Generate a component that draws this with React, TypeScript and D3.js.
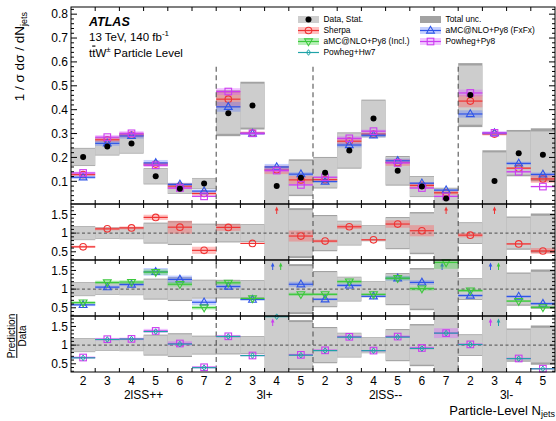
import React from 'react';
import * as d3 from 'd3';

// Bin labels (jet multiplicity) and analysis regions
const binLabels = ['2', '3', '4', '5', '6', '7', '2', '3', '4', '5', '2', '3', '4', '5', '6', '7', '2', '3', '4', '5'];
const regionNames = ['2lSS++', '3l+', '2lSS--', '3l-'];
const regionSizes = [6, 4, 6, 4];

// Unfolded data: normalised cross-section, statistical and total uncertainty
const dataVals = [0.202, 0.246, 0.258, 0.121, 0.069, 0.091, 0.385, 0.417, 0.080, 0.115, 0.136, 0.229, 0.363, 0.144, 0.078, 0.028, 0.461, 0.101, 0.218, 0.211];
const dataStat = [0.035, 0.035, 0.039, 0.031, 0.020, 0.021, 0.086, 0.092, 0.077, 0.071, 0.062, 0.072, 0.075, 0.058, 0.041, 0.042, 0.124, 0.120, 0.090, 0.098];
const dataTotal = [0.038, 0.038, 0.042, 0.034, 0.022, 0.023, 0.096, 0.100, 0.084, 0.077, 0.066, 0.076, 0.079, 0.062, 0.044, 0.045, 0.134, 0.129, 0.097, 0.111];

// MC predictions and their relative uncertainties
const sherpaVals = [0.128, 0.274, 0.294, 0.172, 0.080, 0.049, 0.444, 0.302, 0.148, 0.106, 0.107, 0.268, 0.298, 0.179, 0.083, 0.052, 0.436, 0.298, 0.155, 0.110];
const sherpaUnc = [0.05, 0.035, 0.035, 0.05, 0.15, 0.18, 0.08, 0.02, 0.12, 0.16, 0.05, 0.05, 0.02, 0.08, 0.14, 0.15, 0.06, 0.02, 0.03, 0.15];
const fxfxVals = [0.117, 0.259, 0.290, 0.177, 0.087, 0.059, 0.412, 0.300, 0.160, 0.130, 0.099, 0.252, 0.293, 0.186, 0.092, 0.063, 0.382, 0.302, 0.175, 0.129];
const fxfxUnc = [0.06, 0.04, 0.04, 0.07, 0.08, 0.12, 0.05, 0.02, 0.08, 0.06, 0.04, 0.04, 0.03, 0.05, 0.05, 0.08, 0.04, 0.02, 0.04, 0.06];
const inclVals = [0.129, 0.290, 0.307, 0.176, 0.078, 0.046, 0.450, 0.313, 0.160, 0.099, 0.117, 0.275, 0.312, 0.186, 0.079, 0.048, 0.443, 0.290, 0.148, 0.108];
const inclUnc = [0.06, 0.04, 0.04, 0.05, 0.05, 0.1, 0.04, 0.03, 0.06, 0.05, 0.04, 0.04, 0.03, 0.04, 0.05, 0.1, 0.04, 0.03, 0.04, 0.06];
const powhegPy8Vals = [0.135, 0.285, 0.301, 0.167, 0.072, 0.037, 0.476, 0.301, 0.145, 0.085, 0.117, 0.280, 0.310, 0.177, 0.072, 0.037, 0.470, 0.303, 0.140, 0.078];
const powhegPy8Unc = [0.04, 0.03, 0.03, 0.04, 0.06, 0.08, 0.03, 0.02, 0.05, 0.04, 0.03, 0.03, 0.02, 0.03, 0.04, 0.1, 0.03, 0.02, 0.03, 0.04];
const powhegHw7Vals = [0.133, 0.283, 0.300, 0.165, 0.071, 0.036, 0.474, 0.300, 0.141, 0.084, 0.116, 0.278, 0.309, 0.175, 0.071, 0.037, 0.468, 0.301, 0.139, 0.077];

// Axis ticks
const mainTicks = [0.1, 0.2, 0.3, 0.4, 0.5, 0.6, 0.7, 0.8];
const ratioTicks = [0.5, 1, 1.5];

const FONT = "'Liberation Sans', Arial, Helvetica, sans-serif";
const W = 556;
const H = 421;
const X0 = 71;
const X1 = 555;
const MAIN_TOP = 7;
const MAIN_BOT = 204;
const RATIO_TOPS = [204, 260, 316];
const RH = 56;
const RATIO_DOMAIN: [number, number] = [0.28, 1.78];

const STAT_GREY = '#cdcdcd';
const TOTAL_GREY = '#a2a2a2';

type MarkerType = 'circle' | 'up' | 'down' | 'square' | 'diamond' | 'dot';

interface Series {
  key: string;
  label: string;
  color: string;
  band: string | null;
  marker: MarkerType;
  vals: number[];
  unc: number[] | null;
  arrowDx: number;
}

const sherpa: Series = { key: 'sherpa', label: 'Sherpa', color: '#f03434', band: 'rgba(255,90,90,0.38)', marker: 'circle', vals: sherpaVals, unc: sherpaUnc, arrowDx: 0 };
const fxfx: Series = { key: 'fxfx', label: 'aMC@NLO+Py8 (FxFx)', color: '#2f55e8', band: 'rgba(90,120,255,0.35)', marker: 'up', vals: fxfxVals, unc: fxfxUnc, arrowDx: -4 };
const incl: Series = { key: 'incl', label: 'aMC@NLO+Py8 (Incl.)', color: '#3cc83c', band: 'rgba(80,215,80,0.4)', marker: 'down', vals: inclVals, unc: inclUnc, arrowDx: 4 };
const py8: Series = { key: 'py8', label: 'Powheg+Py8', color: '#cc3cf0', band: 'rgba(215,90,255,0.35)', marker: 'square', vals: powhegPy8Vals, unc: powhegPy8Unc, arrowDx: -4 };
const hw7: Series = { key: 'hw7', label: 'Powheg+Hw7', color: '#1fa3a8', band: null, marker: 'diamond', vals: powhegHw7Vals, unc: null, arrowDx: 4 };

const x = d3.scaleLinear().domain([0, 20]).range([X0, X1]);
const yMain = d3.scaleLinear().domain([0.005, 0.83]).range([MAIN_BOT, MAIN_TOP]);
const yRatio = RATIO_TOPS.map((t) => d3.scaleLinear().domain(RATIO_DOMAIN).range([t + RH, t]));

function Marker({ type, cx, cy, color }: { type: MarkerType; cx: number; cy: number; color: string }) {
  const sw = 1.1;
  switch (type) {
    case 'circle':
      return <circle cx={cx} cy={cy} r={3.3} fill="none" stroke={color} strokeWidth={sw} />;
    case 'up':
      return <path d={`M${cx},${cy - 4.2}L${cx - 3.9},${cy + 2.6}L${cx + 3.9},${cy + 2.6}Z`} fill="none" stroke={color} strokeWidth={sw} />;
    case 'down':
      return <path d={`M${cx},${cy + 4.2}L${cx - 3.9},${cy - 2.6}L${cx + 3.9},${cy - 2.6}Z`} fill="none" stroke={color} strokeWidth={sw} />;
    case 'square':
      return <rect x={cx - 3.3} y={cy - 3.3} width={6.6} height={6.6} fill="none" stroke={color} strokeWidth={sw} />;
    case 'diamond':
      return <path d={`M${cx},${cy - 2.8}L${cx + 2},${cy}L${cx},${cy + 2.8}L${cx - 2},${cy}Z`} fill="none" stroke={color} strokeWidth={1} />;
    case 'dot':
      return <circle cx={cx} cy={cy} r={3} fill="#000" />;
  }
  return null;
}

function SeriesMain({ s }: { s: Series }) {
  return (
    <g>
      {s.vals.map((v, i) => {
        const xa = x(i);
        const xb = x(i + 1);
        const u = s.unc ? s.unc[i] : 0;
        return (
          <g key={i}>
            {s.band && (
              <rect x={xa} width={xb - xa} y={yMain(v * (1 + u))} height={Math.max(0.8, yMain(v * (1 - u)) - yMain(v * (1 + u)))} fill={s.band} />
            )}
            <line x1={xa} x2={xb} y1={yMain(v)} y2={yMain(v)} stroke={s.color} strokeWidth={1.2} />
            <Marker type={s.marker} cx={(xa + xb) / 2} cy={yMain(v)} color={s.color} />
          </g>
        );
      })}
    </g>
  );
}

function SeriesRatio({ s, panel }: { s: Series; panel: number }) {
  const y = yRatio[panel];
  const top = RATIO_TOPS[panel];
  return (
    <g>
      {s.vals.map((v, i) => {
        const r = v / dataVals[i];
        const xa = x(i);
        const xb = x(i + 1);
        const xc = (xa + xb) / 2;
        if (r > RATIO_DOMAIN[1]) {
          const ax = xc + s.arrowDx;
          return (
            <g key={i}>
              <line x1={ax} x2={ax} y1={top + 10} y2={top + 5} stroke={s.color} strokeWidth={1} />
              <path d={`M${ax},${top + 2.5}L${ax - 1.8},${top + 6.5}L${ax + 1.8},${top + 6.5}Z`} fill={s.color} />
            </g>
          );
        }
        const u = s.unc ? s.unc[i] : 0;
        return (
          <g key={i}>
            {s.band && (
              <g clipPath={`url(#clip-r${panel})`}>
                <rect x={xa} width={xb - xa} y={y(r * (1 + u))} height={Math.max(0.8, y(r * (1 - u)) - y(r * (1 + u)))} fill={s.band} />
              </g>
            )}
            <line x1={xa} x2={xb} y1={y(r)} y2={y(r)} stroke={s.color} strokeWidth={1.2} />
            <Marker type={s.marker} cx={xc} cy={y(r)} color={s.color} />
          </g>
        );
      })}
    </g>
  );
}

function DataBandsRatio({ panel }: { panel: number }) {
  const y = yRatio[panel];
  return (
    <g clipPath={`url(#clip-r${panel})`}>
      {dataVals.map((d, i) => {
        const rt = dataTotal[i] / d;
        const rs = dataStat[i] / d;
        return (
          <g key={i}>
            <rect x={x(i)} width={x(i + 1) - x(i)} y={y(1 + rt)} height={y(1 - rt) - y(1 + rt)} fill={TOTAL_GREY} />
            <rect x={x(i)} width={x(i + 1) - x(i)} y={y(1 + rs)} height={y(1 - rs) - y(1 + rs)} fill={STAT_GREY} />
          </g>
        );
      })}
    </g>
  );
}

function PanelFrame({ top, bottom, yTicks, yScale, minor, majorLen }: { top: number; bottom: number; yTicks: number[]; yScale: d3.ScaleLinear<number, number>; minor: number[]; majorLen: number }) {
  const edges = d3.range(1, 20);
  return (
    <g>
      <rect x={X0} y={top} width={X1 - X0} height={bottom - top} fill="none" stroke="#000" strokeWidth={1} />
      {edges.map((e) => (
        <g key={e}>
          <line x1={x(e)} x2={x(e)} y1={top} y2={top + 4} stroke="#000" strokeWidth={1} />
          <line x1={x(e)} x2={x(e)} y1={bottom} y2={bottom - 4} stroke="#000" strokeWidth={1} />
        </g>
      ))}
      {yTicks.map((t) => (
        <g key={'M' + t}>
          <line x1={X0} x2={X0 + majorLen} y1={yScale(t)} y2={yScale(t)} stroke="#000" strokeWidth={1} />
          <line x1={X1} x2={X1 - majorLen} y1={yScale(t)} y2={yScale(t)} stroke="#000" strokeWidth={1} />
          <text x={68} y={yScale(t)} dy="0.35em" textAnchor="end" fontSize={12}>{t}</text>
        </g>
      ))}
      {minor.map((t) => (
        <g key={'m' + t}>
          <line x1={X0} x2={X0 + 3} y1={yScale(t)} y2={yScale(t)} stroke="#000" strokeWidth={1} />
          <line x1={X1} x2={X1 - 3} y1={yScale(t)} y2={yScale(t)} stroke="#000" strokeWidth={1} />
        </g>
      ))}
    </g>
  );
}

function LegendEntry({ s, lx, ly }: { s: Series; lx: number; ly: number }) {
  return (
    <g>
      {s.band && <rect x={lx} y={ly - 3.5} width={21} height={7} fill={s.band} />}
      <line x1={lx} x2={lx + 21} y1={ly} y2={ly} stroke={s.color} strokeWidth={1.2} />
      <Marker type={s.marker} cx={lx + 10.5} cy={ly} color={s.color} />
      <text x={lx + 25.5} y={ly} dy="0.35em" fontSize={8.4}>{s.label}</text>
    </g>
  );
}

export default function App() {
  const mainMinor = d3.range(0.02, 0.83, 0.02).filter((t) => Math.abs(t * 10 - Math.round(t * 10)) > 1e-6);
  const ratioMinor = d3.range(0.3, 1.78, 0.1).filter((t) => Math.abs(t * 2 - Math.round(t * 2)) > 1e-6);
  const boundaries: number[] = [];
  let acc = 0;
  regionSizes.forEach((n) => {
    boundaries.push(acc);
    acc += n;
  });
  const separators = boundaries.slice(1);

  return (
    <svg width={W} height={H} style={{ position: 'absolute', left: 0, top: 0, background: '#fff' }} fontFamily={FONT}>
      <defs>
        <clipPath id="clip-main">
          <rect x={X0} y={MAIN_TOP} width={X1 - X0} height={MAIN_BOT - MAIN_TOP} />
        </clipPath>
        {RATIO_TOPS.map((t, i) => (
          <clipPath id={`clip-r${i}`} key={i}>
            <rect x={X0} y={t} width={X1 - X0} height={RH} />
          </clipPath>
        ))}
      </defs>
      <rect x={0} y={0} width={W} height={H} fill="#fff" />

      {/* Main panel: data uncertainty boxes */}
      <g clipPath="url(#clip-main)">
        {dataVals.map((d, i) => (
          <g key={i}>
            <rect x={x(i)} width={x(i + 1) - x(i)} y={yMain(d + dataTotal[i])} height={yMain(d - dataTotal[i]) - yMain(d + dataTotal[i])} fill={TOTAL_GREY} />
            <rect x={x(i)} width={x(i + 1) - x(i)} y={yMain(d + dataStat[i])} height={yMain(d - dataStat[i]) - yMain(d + dataStat[i])} fill={STAT_GREY} />
          </g>
        ))}
        <SeriesMain s={sherpa} />
        <SeriesMain s={fxfx} />
        <SeriesMain s={py8} />
        {dataVals.map((d, i) => (
          <Marker key={i} type="dot" cx={(x(i) + x(i + 1)) / 2} cy={yMain(d)} color="#000" />
        ))}
      </g>

      {/* Region separators in the main panel */}
      {separators.map((b) => (
        <line key={b} x1={x(b)} x2={x(b)} y1={yMain(0.58)} y2={MAIN_BOT} stroke="#555" strokeWidth={1.1} strokeDasharray="5,3.5" />
      ))}

      {/* Ratio panels */}
      {[0, 1, 2].map((p) => (
        <g key={p}>
          <DataBandsRatio panel={p} />
          <line x1={X0} x2={X1} y1={yRatio[p](1)} y2={yRatio[p](1)} stroke="#666" strokeWidth={1.1} strokeDasharray="3,2.5" />
        </g>
      ))}
      {separators.map((b) => (
        <line key={'s' + b} x1={x(b)} x2={x(b)} y1={RATIO_TOPS[0]} y2={RATIO_TOPS[2] + RH} stroke="#555" strokeWidth={1.1} strokeDasharray="5,3.5" />
      ))}
      <SeriesRatio s={sherpa} panel={0} />
      <SeriesRatio s={fxfx} panel={1} />
      <SeriesRatio s={incl} panel={1} />
      <SeriesRatio s={py8} panel={2} />
      <SeriesRatio s={hw7} panel={2} />

      {/* Frames and axes */}
      <PanelFrame top={MAIN_TOP} bottom={MAIN_BOT} yTicks={mainTicks} yScale={yMain} minor={mainMinor} majorLen={6} />
      {RATIO_TOPS.map((t, i) => (
        <PanelFrame key={i} top={t} bottom={t + RH} yTicks={ratioTicks} yScale={yRatio[i]} minor={ratioMinor} majorLen={5} />
      ))}

      {/* Bin labels */}
      {binLabels.map((l, i) => (
        <text key={i} x={(x(i) + x(i + 1)) / 2} y={384.5} textAnchor="middle" fontSize={12}>{l}</text>
      ))}
      {regionNames.map((n, k) => (
        <text key={n} x={(x(boundaries[k]) + x(boundaries[k] + regionSizes[k])) / 2} y={398.5} textAnchor="middle" fontSize={12}>{n}</text>
      ))}
      <text x={555} y={414.5} textAnchor="end" fontSize={13}>
        Particle-Level N<tspan dy={2.5} fontSize={9}>jets</tspan>
      </text>

      {/* Axis titles */}
      <text transform="translate(24,12) rotate(-90)" textAnchor="end" fontSize={13.5}>
        1 / σ dσ / dN<tspan dy={3} fontSize={9}>jets</tspan>
      </text>
      <text transform="translate(15,336) rotate(-90)" textAnchor="middle" fontSize={10}>Prediction</text>
      <line x1={16.8} x2={16.8} y1={314} y2={358} stroke="#000" strokeWidth={1} />
      <text transform="translate(25.5,336) rotate(-90)" textAnchor="middle" fontSize={10}>Data</text>

      {/* ATLAS label */}
      <text x={89} y={26} fontSize={12.5} fontWeight="bold" fontStyle="italic">ATLAS</text>
      <text x={89} y={40.5} fontSize={11.5}>
        13 TeV, 140 fb<tspan dy={-4.5} fontSize={8}>-1</tspan>
      </text>
      <text x={89} y={56.5} fontSize={11.5}>
        t<tspan style={{ textDecoration: 'overline' }}>t</tspan>W<tspan dy={-4.5} fontSize={8}>±</tspan>
        <tspan dy={4.5}> Particle Level</tspan>
      </text>

      {/* Legend */}
      <g>
        <rect x={298} y={16} width={21} height={7} fill={STAT_GREY} />
        <Marker type="dot" cx={308.5} cy={19.5} color="#000" />
        <text x={323.5} y={19.5} dy="0.35em" fontSize={8.4}>Data, Stat.</text>
        <LegendEntry s={sherpa} lx={298} ly={30.5} />
        <LegendEntry s={incl} lx={298} ly={41.5} />
        <LegendEntry s={hw7} lx={298} ly={52.5} />
        <rect x={420} y={16} width={21} height={7} fill={TOTAL_GREY} />
        <text x={445.5} y={19.5} dy="0.35em" fontSize={8.4}>Total unc.</text>
        <LegendEntry s={fxfx} lx={420} ly={30.5} />
        <LegendEntry s={py8} lx={420} ly={41.5} />
      </g>
    </svg>
  );
}
